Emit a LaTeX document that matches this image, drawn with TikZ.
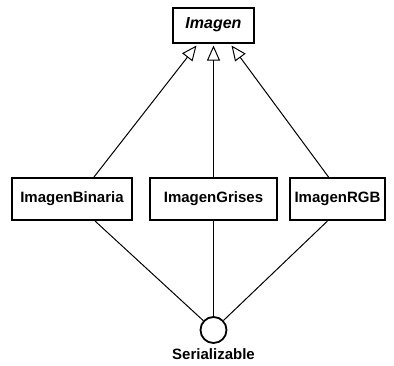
\documentclass[tikz,border=0pt]{standalone}
\usepackage{fontspec}
\setmainfont{Liberation Sans}
\usetikzlibrary{arrows.meta,calc}

\begin{document}
\begin{tikzpicture}[x=1pt, y=-1pt, every node/.style={font=\bfseries\fontsize{15}{17}\selectfont},
  clase/.style={draw, line width=2pt, minimum height=42pt, inner xsep=0pt},
  hereda/.style={-{Triangle[open,length=15pt,width=13pt,line width=1pt]}, line width=1pt}]
 \useasboundingbox (0,0) rectangle (394,365);
 \node[clase, minimum width=81pt, minimum height=35pt, font=\bfseries\itshape\fontsize{16}{18}\selectfont] (imagen) at (213.5,25) {Imagen};
 \node[clase, minimum width=120pt] (binaria) at (72,199) {ImagenBinaria};
 \node[clase, minimum width=127pt] (grises) at (213.5,199) {ImagenGrises};
 \node[clase, minimum width=95pt] (rgb) at (337.5,199) {ImagenRGB};
 \node[circle, draw, line width=1.8pt, minimum size=26pt, inner sep=0pt] (serial) at (213.5,330) {};
 \node (serialtxt) at (213.5,354) {Serializable};
 \draw[hereda] ($(binaria.north)+(22,0)$) -- ($(imagen.south)+(-17,2)$);
 \draw[hereda] (grises.north) -- ($(imagen.south)+(0,2)$);
 \draw[hereda] ($(rgb.north)+(-9,0)$) -- ($(imagen.south)+(18,2)$);
 \draw[line width=1pt] ($(binaria.south)+(23,0)$) -- (serial);
 \draw[line width=1pt] (grises.south) -- (serial);
 \draw[line width=1pt] ($(rgb.south)+(-10,0)$) -- (serial);
\end{tikzpicture}
\end{document}
